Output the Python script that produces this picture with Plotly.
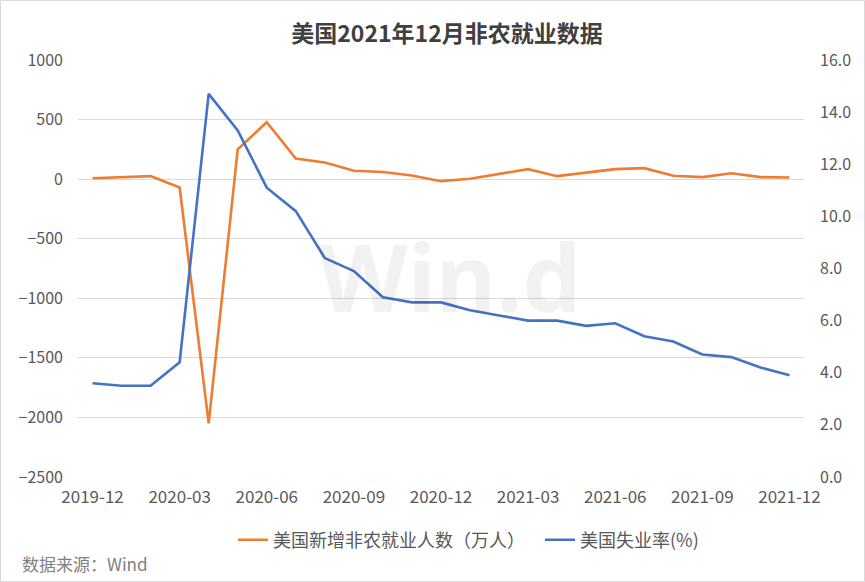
import plotly.graph_objects as go

months = ["2019-12", "2020-01", "2020-02", "2020-03", "2020-04", "2020-05", "2020-06",
          "2020-07", "2020-08", "2020-09", "2020-10", "2020-11", "2020-12",
          "2021-01", "2021-02", "2021-03", "2021-04", "2021-05", "2021-06",
          "2021-07", "2021-08", "2021-09", "2021-10", "2021-11", "2021-12"]

# 美国新增非农就业人数（万人）
payrolls = [8, 14, 25, -70, -2050, 250, 478, 172, 140, 70, 60, 30, -17,
            3, 42, 84, 25, 56, 84, 92, 28, 17, 50, 17, 14]

# 美国失业率(%)
unemployment = [3.6, 3.5, 3.5, 4.4, 14.7, 13.3, 11.1, 10.2, 8.4, 7.9, 6.9, 6.7, 6.7,
                6.4, 6.2, 6.0, 6.0, 5.8, 5.9, 5.4, 5.2, 4.7, 4.6, 4.2, 3.9]

x_ticks = months[::3]
# category-boundary tick marks on the zero line (every 3 months)
boundary_ticks = [i - 0.5 for i in range(0, len(months), 3)]

FONT = "Noto Sans CJK SC"
TICK_COLOR = "#595959"

Y_MIN, Y_MAX = -2500, 1000

fig = go.Figure()
fig.add_trace(go.Scatter(
    x=months, y=payrolls, mode="lines", name="美国新增非农就业人数（万人）",
    line=dict(color="#ED7D31", width=2.6), yaxis="y"))
fig.add_trace(go.Scatter(
    x=months, y=unemployment, mode="lines", name="美国失业率(%)",
    line=dict(color="#4472C4", width=2.6), yaxis="y2"))

L, R, T, B = 78, 61, 60, 105
W, H = 865, 582
pw, ph = W - L - R, H - T - B

fig.update_layout(
    width=W, height=H,
    margin=dict(l=L, r=R, t=T, b=B),
    paper_bgcolor="white", plot_bgcolor="white",
    font=dict(family=FONT, size=15, color=TICK_COLOR),
    title=dict(text="<b>美国2021年12月非农就业数据</b>", x=447 / W, xanchor="center",
               y=1 - 34 / H, yanchor="middle",
               font=dict(family=FONT, size=23, color="#404040")),
    xaxis=dict(type="category", categoryorder="array", categoryarray=months,
               range=[-0.5, len(months) - 0.5], tickmode="array", tickvals=x_ticks,
               showgrid=False, zeroline=False, showline=False, ticks="",
               tickfont=dict(family=FONT, size=17, color=TICK_COLOR),
               ticklabelstandoff=8),
    xaxis2=dict(type="linear", overlaying="x", anchor="free",
                position=(0 - Y_MIN) / (Y_MAX - Y_MIN), side="bottom",
                range=[-0.5, len(months) - 0.5], tickmode="array",
                tickvals=boundary_ticks, ticks="outside", ticklen=5, tickwidth=1,
                tickcolor="#BFBFBF", showticklabels=False, showgrid=False,
                zeroline=False, showline=False),
    yaxis=dict(range=[Y_MIN, Y_MAX], dtick=500, tick0=0, showgrid=True,
               gridcolor="#D9D9D9", gridwidth=1, zeroline=False, showline=False,
               ticks="", tickfont=dict(family=FONT, size=16, color=TICK_COLOR),
               ticklabelstandoff=14),
    yaxis2=dict(range=[0, 16], dtick=2, tick0=0, overlaying="y", side="right",
                tickformat=".1f", showgrid=False, zeroline=False, showline=False,
                ticks="", tickfont=dict(family=FONT, size=16, color=TICK_COLOR),
                ticklabelstandoff=15),
    legend=dict(orientation="h", x=(233 - L) / pw, xanchor="left",
                y=(477 - 540) / ph, yanchor="middle",
                font=dict(family=FONT, size=18, color=TICK_COLOR),
                itemwidth=30, entrywidth=262, bgcolor="rgba(0,0,0,0)"),
    showlegend=True,
)

# Watermark
fig.add_annotation(text="<b>Win.d</b>", xref="paper", yref="paper",
                   x=(449 - L) / pw, y=(477 - 276) / ph, showarrow=False,
                   font=dict(family="Noto Sans", size=93, color="rgba(0,0,0,0.05)"))

# Source
fig.add_annotation(text="数据来源：Wind", xref="paper", yref="paper",
                   x=(20 - L) / pw, y=(477 - 563) / ph, xanchor="left", yanchor="middle",
                   showarrow=False, font=dict(family=FONT, size=17, color="#808080"))

# Outer border
fig.add_shape(type="rect", xref="paper", yref="paper",
              x0=(0.5 - L) / pw, x1=(W - 0.5 - L) / pw,
              y0=(T + ph - (H - 0.5)) / ph, y1=(T + ph - 0.5) / ph,
              line=dict(color="#D9D9D9", width=1), layer="below")

fig.write_html("out.html",
               config={"displayModeBar": False},
               post_script="document.body.style.margin='0';document.body.style.overflow='hidden';")
